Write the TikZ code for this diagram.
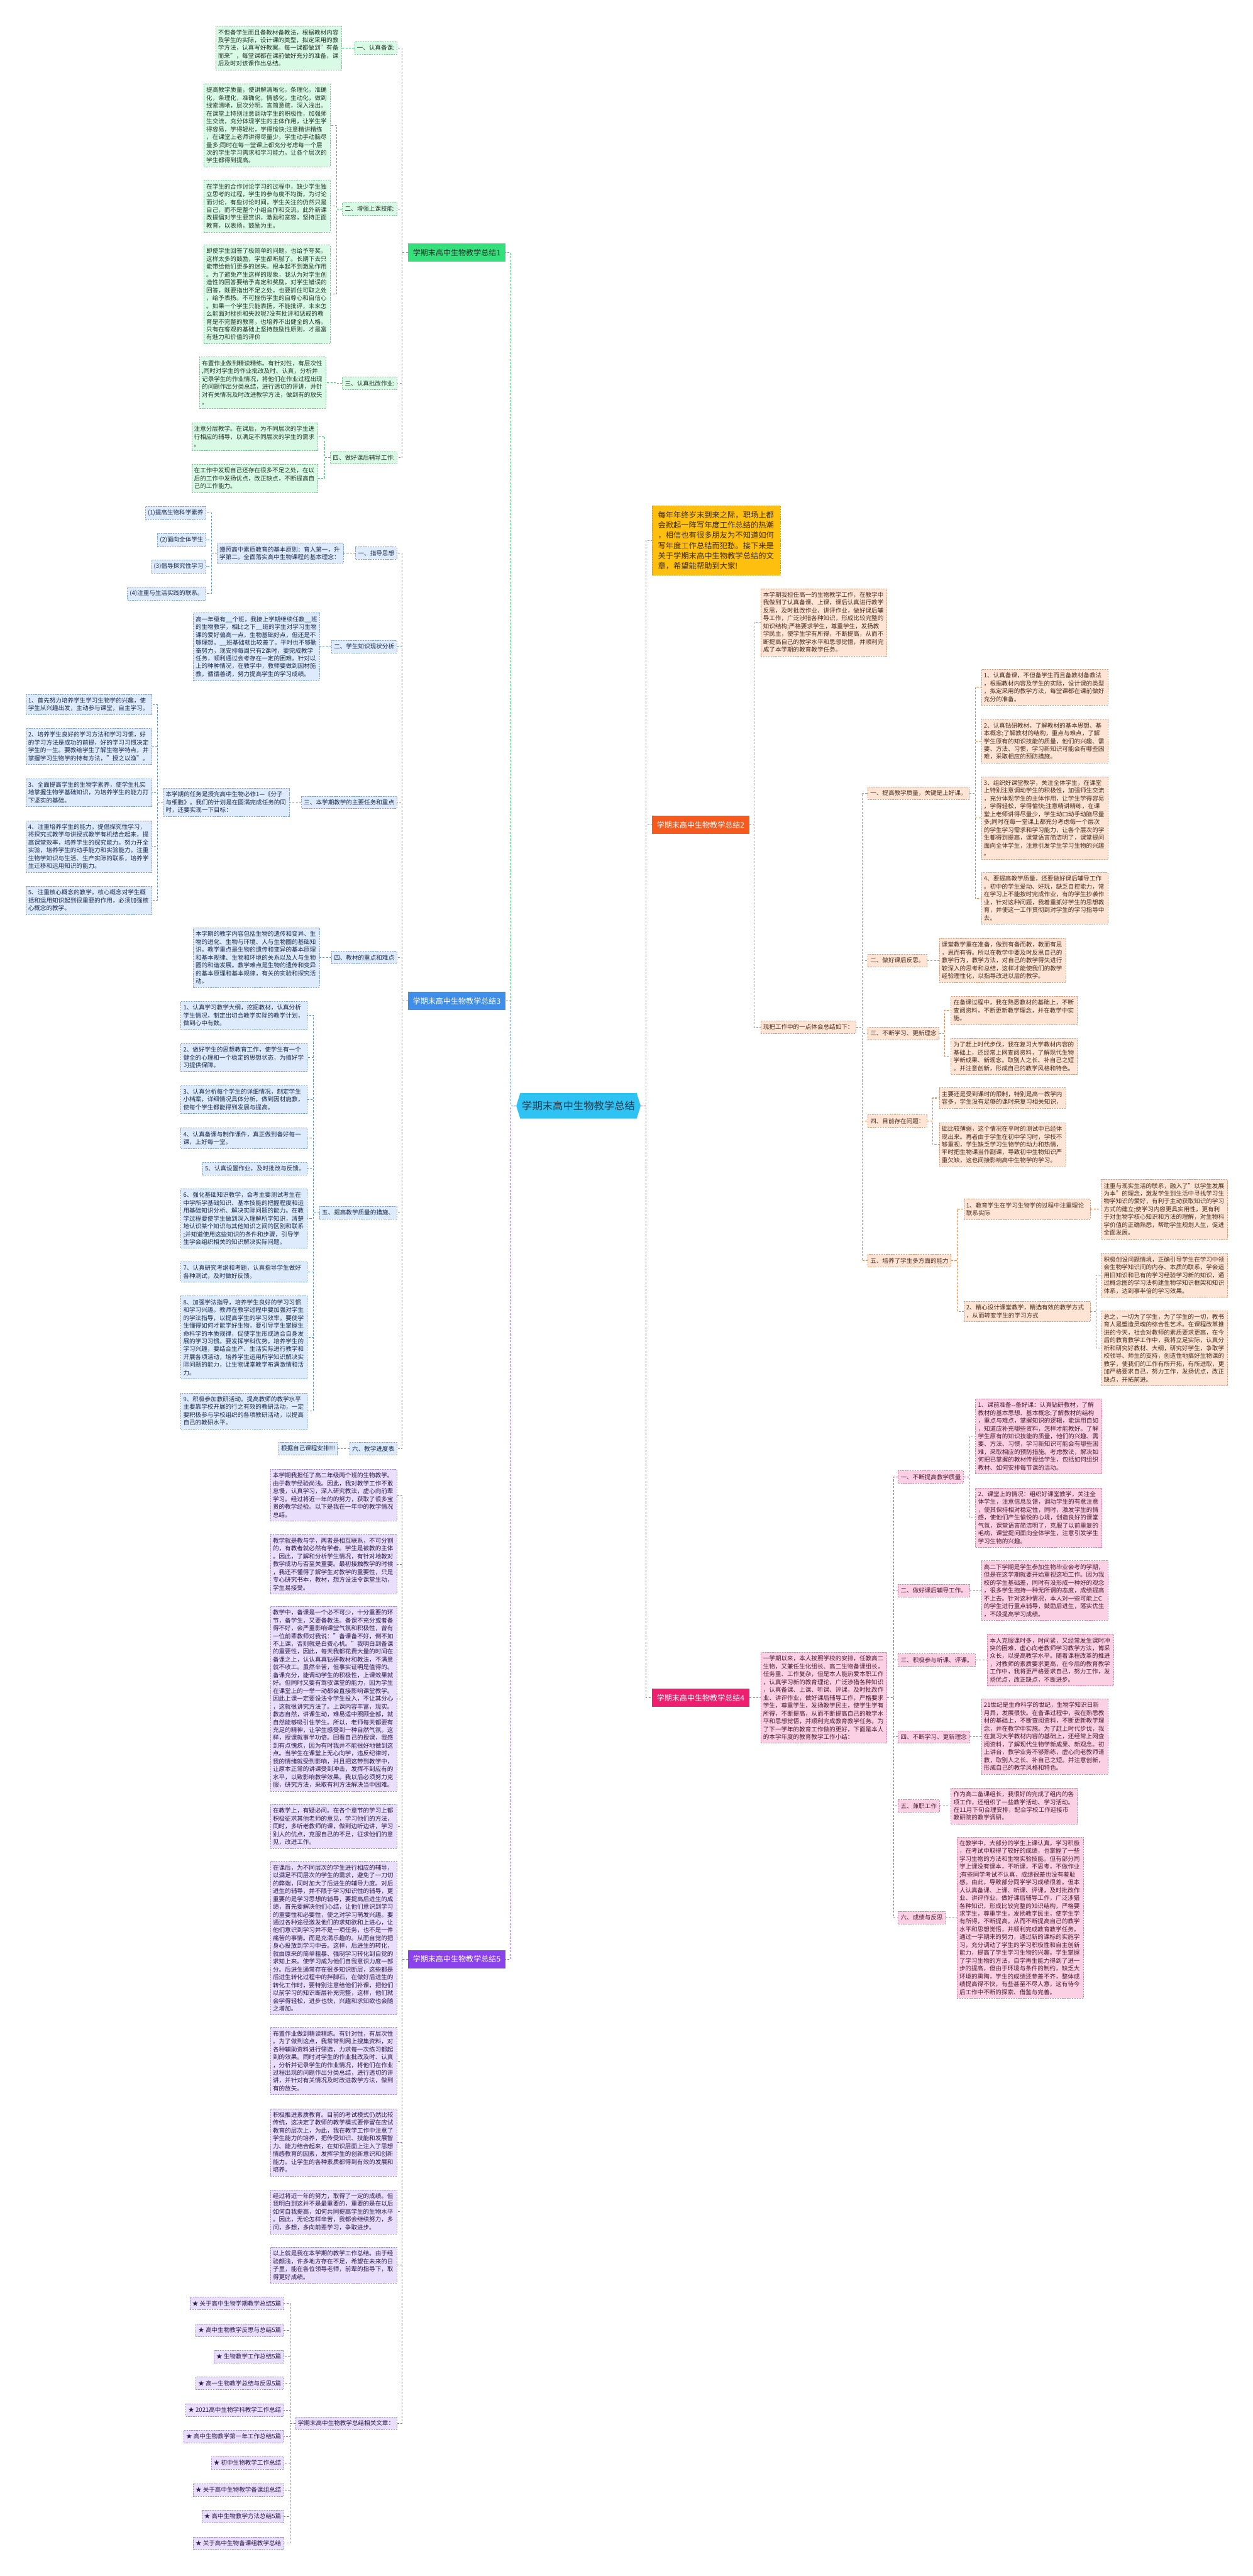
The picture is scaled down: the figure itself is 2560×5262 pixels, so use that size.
\documentclass[tikz,border=0pt]{standalone}
\usepackage{fontspec}
\setmainfont{Noto Sans CJK SC}
\usepackage{xcolor}
\usepackage{tikz}
\usetikzlibrary{shapes.symbols, positioning}

\definecolor{hubfill}{HTML}{2FC3F4}
\definecolor{hubtext}{HTML}{1E3A4C}
\definecolor{greenroot}{HTML}{33E07C}
\definecolor{greenfill}{HTML}{D9FBE6}
\definecolor{greenedge}{HTML}{7FBF95}
\definecolor{greenlink}{HTML}{3CBF6A}
\definecolor{greentext}{HTML}{233329}
\definecolor{blueroot}{HTML}{3E8EEA}
\definecolor{bluefill}{HTML}{DDEBFC}
\definecolor{blueedge}{HTML}{7F9FCB}
\definecolor{bluelink}{HTML}{5B8ED8}
\definecolor{bluetext}{HTML}{1E2A4D}
\definecolor{purpleroot}{HTML}{8A43EC}
\definecolor{purplefill}{HTML}{E9DEFC}
\definecolor{purpleedge}{HTML}{9E89C9}
\definecolor{purplelink}{HTML}{8D5BE2}
\definecolor{purpletext}{HTML}{2C1B4C}
\definecolor{orangeroot}{HTML}{F85A1E}
\definecolor{orangefill}{HTML}{FDE4D5}
\definecolor{orangeedge}{HTML}{CF9B7D}
\definecolor{orangelink}{HTML}{EE7B3C}
\definecolor{orangetext}{HTML}{4A2C1C}
\definecolor{pinkroot}{HTML}{EF1F6F}
\definecolor{pinkfill}{HTML}{FCD0E4}
\definecolor{pinkedge}{HTML}{CF7EA3}
\definecolor{pinklink}{HTML}{E6447D}
\definecolor{pinktext}{HTML}{4B1B31}
\definecolor{introfill}{HTML}{FFBF0F}
\definecolor{introedge}{HTML}{C8961B}
\definecolor{introtext}{HTML}{3B2B00}

\newcommand{\txtfont}{\fontsize{12.3}{16}\selectfont}
\newcommand{\rootfont}{\fontsize{15.5}{18}\selectfont}
\newcommand{\hubfont}{\fontsize{21}{24}\selectfont}
\newcommand{\introfont}{\fontsize{15.8}{21}\selectfont}

\tikzstyle{card} = [rectangle, draw, dash pattern=on 3pt off 2pt, line width=0.8pt, inner xsep=5pt, inner ysep=7pt, font=\txtfont]
\tikzstyle{wide} = [text width=248pt, align=left]
\tikzstyle{root} = [rectangle, minimum width=199pt, minimum height=37pt, inner xsep=8pt, font=\rootfont]
\tikzstyle{line} = [draw, dash pattern=on 4pt off 3pt, line width=1.3pt]
\tikzstyle{greencard} = [card, fill=greenfill, draw=greenedge, text=greentext]
\tikzstyle{bluecard} = [card, fill=bluefill, draw=blueedge, text=bluetext]
\tikzstyle{purplecard} = [card, fill=purplefill, draw=purpleedge, text=purpletext]
\tikzstyle{orangecard} = [card, fill=orangefill, draw=orangeedge, text=orangetext]
\tikzstyle{pinkcard} = [card, fill=pinkfill, draw=pinkedge, text=pinktext]
\tikzstyle{greenline} = [line, draw=greenlink]
\tikzstyle{blueline} = [line, draw=bluelink]
\tikzstyle{purpleline} = [line, draw=purplelink]
\tikzstyle{orangeline} = [line, draw=orangelink]
\tikzstyle{pinkline} = [line, draw=pinklink]

\begin{document}
\begin{tikzpicture}[x=1pt, y=-1pt]
    \useasboundingbox (0,0) rectangle (2560,5262);
    \fill [white] (0,0) rectangle (2560,5262);

    % Nodes
    \node [signal, signal to=west and east, signal pointer angle=146, fill=hubfill, text=hubtext, font=\hubfont, minimum width=254pt, minimum height=52pt, inner xsep=2pt] (hub) at (1182,2259) {学期末高中生物教学总结};

    % --- summary 1 (green)
    \node [root, fill=greenroot, text=greentext, anchor=east] (sum1) at (1033,516) {学期末高中生物教学总结1};
    \node [greencard, anchor=east] (g1) at (812,98) {一、认真备课:};
    \node [greencard, anchor=east] (g2) at (812,427) {二、增强上课技能:};
    \node [greencard, anchor=east] (g3) at (812,783) {三、认真批改作业:};
    \node [greencard, anchor=east] (g4) at (812,935) {四、做好课后辅导工作:};
    \node [greencard, wide, anchor=east] (g1t) at (699,98) {不但备学生而且备教材备教法，根据教材内容\\及学生的实际，设计课的类型，拟定采用的教\\学方法，认真写好教案。每一课都做到"有备\\而来"，每堂课都在课前做好充分的准备，课\\后及时对该课作出总结。};
    \node [greencard, wide, anchor=east] (g2a) at (675,256) {提高教学质量，使讲解清晰化，条理化，准确\\化，条理化，准确化，情感化，生动化，做到\\线索清晰，层次分明，言简意赅，深入浅出。\\在课堂上特别注意调动学生的积极性，加强师\\生交流，充分体现学生的主体作用，让学生学\\得容易，学得轻松，学得愉快;注意精讲精练\\，在课堂上老师讲得尽量少，学生动手动脑尽\\量多;同时在每一堂课上都充分考虑每一个层\\次的学生学习需求和学习能力，让各个层次的\\学生都得到提高。};
    \node [greencard, wide, anchor=east] (g2b) at (675,421) {在学生的合作讨论学习的过程中，缺少学生独\\立思考的过程，学生的参与度不均衡，为讨论\\而讨论，有些讨论时间，学生关注的仍然只是\\自己，而不是整个小组合作和交流。此外新课\\改提倡对学生要赏识，激励和宽容，坚持正面\\教育，以表扬，鼓励为主。};
    \node [greencard, wide, anchor=east] (g2c) at (675,601) {即使学生回答了极简单的问题，也给予夸奖。\\这样太多的鼓励，学生都听腻了。长期下去只\\能带给他们更多的迷失。根本起不到激励作用\\。为了避免产生这样的现象，我认为对学生创\\造性的回答要给予肯定和奖励，对学生错误的\\回答，既要指出不足之处，也要抓住可取之处\\，给予表扬。不可挫伤学生的自尊心和自信心\\。如果一个学生只能表扬，不能批评，未来怎\\么能面对挫折和失败呢?没有批评和惩戒的教\\育是不完整的教育，也培养不出健全的人格。\\只有在客观的基础上坚持鼓励性原则，才是富\\有魅力和价值的评价};
    \node [greencard, wide, anchor=east] (g3t) at (666,782) {布置作业做到精读精练。有针对性，有层次性\\,同时对学生的作业批改及时、认真，分析并\\记录学生的作业情况，将他们在作业过程出现\\的问题作出分类总结，进行透切的评讲，并针\\对有关情况及时改进教学方法，做到有的放矢\\。};
    \node [greencard, wide, anchor=east] (g4a) at (650,892) {注意分层教学。在课后，为不同层次的学生进\\行相应的辅导，以满足不同层次的学生的需求\\。};
    \node [greencard, wide, anchor=east] (g4b) at (650,977) {在工作中发现自己还存在很多不足之处，在以\\后的工作中发扬优点，改正缺点，不断提高自\\己的工作能力。};

    % --- summary 3 (blue)
    \node [root, fill=blueroot, text=white, anchor=east] (sum3) at (1033,2045) {学期末高中生物教学总结3};
    \node [bluecard, anchor=east] (b1) at (811,1130) {一、指导思想};
    \node [bluecard, anchor=east] (b2) at (811,1321) {二、学生知识现状分析};
    \node [bluecard, anchor=east] (b3) at (811,1639) {三、本学期教学的主要任务和重点};
    \node [bluecard, anchor=east] (b4) at (811,1956) {四、教材的重点和难点};
    \node [bluecard, anchor=east] (b5) at (811,2477) {五、提高教学质量的措施、};
    \node [bluecard, anchor=east] (b6) at (811,2959) {六、教学进度表};
    \node [bluecard, wide, anchor=east] (b1t) at (702,1130) {遵照高中素质教育的基本原则：育人第一，升\\学第二。全面落实高中生物课程的基本理念：};
    \node [bluecard, anchor=east] (b1a) at (421,1048) {(1)提高生物科学素养};
    \node [bluecard, anchor=east] (b1b) at (421,1103) {(2)面向全体学生};
    \node [bluecard, anchor=east] (b1c) at (421,1157) {(3)倡导探究性学习};
    \node [bluecard, anchor=east] (b1d) at (421,1212) {(4)注重与生活实践的联系。};
    \node [bluecard, wide, anchor=east] (b2t) at (653,1321) {高一年级有\_\_个班，我接上学期继续任教\_\_班\\的生物教学，相比之下\_\_班的学生对学习生物\\课的爱好偏高一点，生物基础好点，但还是不\\够理想。\_\_班基础就比较差了。平时也不够勤\\奋努力，现安排每周只有2课时，要完成教学\\任务，顺利通过会考存在一定的困难。针对以\\上的种种情况，在教学中，教师要做到因材施\\教，循循善诱，努力提高学生的学习成绩。};
    \node [bluecard, wide, anchor=east] (b3t) at (592,1639) {本学期的任务是授完高中生物必修1—《分子\\与细胞》。我们的计划是在圆满完成任务的同\\时，还要实现一下目标：};
    \node [bluecard, wide, anchor=east] (b3a) at (311,1439) {1、首先努力培养学生学习生物学的兴趣，使\\学生从兴趣出发，主动参与课堂，自主学习。};
    \node [bluecard, wide, anchor=east] (b3b) at (311,1525) {2、培养学生良好的学习方法和学习习惯，好\\的学习方法是成功的前提，好的学习习惯决定\\学生的一生。要教给学生了解生物学特点，并\\掌握学习生物学的特有方法，"授之以渔"。};
    \node [bluecard, wide, anchor=east] (b3c) at (311,1619) {3、全面提高学生的生物学素养，使学生扎实\\地掌握生物学基础知识，为培养学生的能力打\\下坚实的基础。};
    \node [bluecard, wide, anchor=east] (b3d) at (311,1729) {4、注重培养学生的能力。提倡探究性学习，\\将探究式教学与讲授式教学有机结合起来，提\\高课堂效率，培养学生的探究能力。努力开全\\实验，培养学生的动手能力和实验能力。注重\\生物学知识与生活、生产实际的联系，培养学\\生迁移和运用知识的能力。};
    \node [bluecard, wide, anchor=east] (b3e) at (311,1839) {5、注重核心概念的教学。核心概念对学生概\\括和运用知识起到很重要的作用，必须加强核\\心概念的教学。};
    \node [bluecard, wide, anchor=east] (b4t) at (653,1956) {本学期的教学内容包括生物的遗传和变异、生\\物的进化、生物与环境、人与生物圈的基础知\\识。教学重点是生物的遗传和变异的基本原理\\和基本规律、生物和环境的关系以及人与生物\\圈的和谐发展。教学难点是生物的遗传和变异\\的基本原理和基本规律，有关的实验和探究活\\动。};
    \node [bluecard, wide, anchor=east] (b5a) at (628,2074) {1、认真学习教学大纲，挖掘教材，认真分析\\学生情况，制定出切合教学实际的教学计划，\\做到心中有数。};
    \node [bluecard, wide, anchor=east] (b5b) at (628,2160) {2、做好学生的思想教育工作，使学生有一个\\健全的心理和一个稳定的思想状态，为搞好学\\习提供保障。};
    \node [bluecard, wide, anchor=east] (b5c) at (628,2246) {3、认真分析每个学生的详细情况，制定学生\\小档案，详细情况具体分析，做到因材施教，\\使每个学生都能得到发展与提高。};
    \node [bluecard, wide, anchor=east] (b5d) at (628,2325) {4、认真备课与制作课件，真正做到备好每一\\课，上好每一堂。};
    \node [bluecard, anchor=east] (b5e) at (628,2387) {5、认真设置作业，及时批改与反馈。};
    \node [bluecard, wide, anchor=east] (b5f) at (628,2489) {6、强化基础知识教学，会考主要测试考生在\\中学所学基础知识、基本技能的把握程度和运\\用基础知识分析、解决实际问题的能力。在教\\学过程要使学生做到深入理解所学知识，清楚\\地认识某个知识与其他知识之间的区别和联系\\;并知道使用这些知识的条件和步骤，引导学\\生学会组织相关的知识解决实际问题。};
    \node [bluecard, wide, anchor=east] (b5g) at (628,2598) {7、认真研究考纲和考题，认真指导学生做好\\各种测试，及时做好反馈。};
    \node [bluecard, wide, anchor=east] (b5h) at (628,2732) {8、加强学法指导，培养学生良好的学习习惯\\和学习兴趣。教师在教学过程中要加强对学生\\的学法指导，以提高学生的学习效率。要使学\\生懂得如何才能学好生物，要引导学生掌握生\\命科学的本质规律，促使学生形成适合自身发\\展的学习习惯。要发挥学科优势，培养学生的\\学习兴趣，要结合生产、生活实际进行教学和\\开展各项活动，培养学生运用所学知识解决实\\际问题的能力，让生物课堂教学布满激情和活\\力。};
    \node [bluecard, wide, anchor=east] (b5i) at (628,2882) {9、积极参加教研活动。提高教师的教学水平\\主要靠学校开展的行之有效的教研活动，一定\\要积极参与学校组织的各项教研活动，以提高\\自己的教研水平。};
    \node [bluecard, anchor=east] (b6t) at (690,2959) {根据自己课程安排!!!};

    % --- summary 5 (purple)
    \node [root, fill=purpleroot, text=white, anchor=east] (sum5) at (1033,4002) {学期末高中生物教学总结5};
    \node [purplecard, wide, anchor=east] (p1) at (811,3054) {本学期我担任了高二年级两个班的生物教学。\\由于教学经验尚浅。因此，我对教学工作不敢\\怠慢，认真学习，深入研究教法，虚心向前辈\\学习。经过将近一年的的努力，获取了很多宝\\贵的教学经验。以下是我在一年中的教学情况\\总结。};
    \node [purplecard, wide, anchor=east] (p2) at (811,3195) {教学就是教与学，两者是相互联系，不可分割\\的，有教者就必然有学者。学生是被教的主体\\。因此，了解和分析学生情况，有针对地教对\\教学成功与否至关重要。最初接触教学的时候\\，我还不懂得了解学生对教学的重要性，只是\\专心研究书本，教材，想方设法令课堂生动，\\学生易接受。};
    \node [purplecard, wide, anchor=east] (p3) at (811,3470) {教学中，备课是一个必不可少，十分重要的环\\节，备学生，又要备教法。备课不充分或者备\\得不好，会严重影响课堂气氛和积极性，曾有\\一位前辈教师对我说："备课备不好，倒不如\\不上课，否则就是白费心机。"我明白到备课\\的重要性，因此，每天我都花费大量的时间在\\备课之上，认认真真钻研教材和教法，不满意\\就不收工。虽然辛苦，但事实证明是值得的。\\备课充分，能调动学生的积极性，上课效果就\\好。但同时又要有驾驭课堂的能力，因为学生\\在课堂上的一举一动都会直接影响课堂教学。\\因此上课一定要设法令学生投入，不让其分心\\，这就很讲究方法了。上课内容丰富，现实。\\教态自然，讲课生动，难易适中照顾全部，就\\自然能够吸引住学生。所以，老师每天都要有\\充足的精神，让学生感受到一种自然气氛。这\\样，授课就事半功倍。回看自己的授课，我感\\到有点愧疚，因为有时我并不能很好地做到这\\点。当学生在课堂上无心向学，违反纪律时，\\我的情绪就受到影响，并且把这带到教学中，\\让原本正常的讲课受到冲击，发挥不到应有的\\水平，以致影响教学效果。我以后必须努力克\\服，研究方法，采取有利方法解决当中困难。};
    \node [purplecard, wide, anchor=east] (p4) at (811,3731) {在教学上，有疑必问。在各个章节的学习上都\\积极征求其他老师的意见，学习他们的方法，\\同时，多听老教师的课，做到边听边讲，学习\\别人的优点，克服自己的不足，征求他们的意\\见，改进工作。};
    \node [purplecard, wide, anchor=east] (p5) at (811,3959) {在课后，为不同层次的学生进行相应的辅导，\\以满足不同层次的学生的需求，避免了一刀切\\的弊端，同时加大了后进生的辅导力度。对后\\进生的辅导，并不限于学习知识性的辅导，更\\重要的是学习思想的辅导，要提高后进生的成\\绩，首先要解决他们心结，让他们意识到学习\\的重要性和必要性，使之对学习萌发兴趣。要\\通过各种途径激发他们的求知欲和上进心，让\\他们意识到学习并不是一项任务，也不是一件\\痛苦的事情。而是充满乐趣的。从而自觉的把\\身心投放到学习中去。这样，后进生的转化，\\就由原来的简单粗暴、强制学习转化到自觉的\\求知上来。使学习成为他们自我意识力度一部\\分。后进生通常存在很多知识断层，这些都是\\后进生转化过程中的拌脚石，在做好后进生的\\转化工作时，要特别注意给他们补课，把他们\\以前学习的知识断层补充完整，这样，他们就\\会学得轻松，进步也快，兴趣和求知欲也会随\\之增加。};
    \node [purplecard, wide, anchor=east] (p6) at (811,4210) {布置作业做到精读精练。有针对性，有层次性\\。为了做到这点，我常常到网上搜集资料，对\\各种辅助资料进行筛选，力求每一次练习都起\\到的效果。同时对学生的作业批改及时、认真\\，分析并记录学生的作业情况，将他们在作业\\过程出现的问题作出分类总结，进行透切的评\\讲，并针对有关情况及时改进教学方法，做到\\有的放矢。};
    \node [purplecard, wide, anchor=east] (p7) at (811,4376) {积极推进素质教育。目前的考试模式仍然比较\\传统，这决定了教师的教学模式要停留在应试\\教育的层次上，为此，我在教学工作中注意了\\学生能力的培养，把传受知识、技能和发展智\\力、能力结合起来，在知识层面上注入了思想\\情感教育的因素，发挥学生的创新意识和创新\\能力。让学生的各种素质都得到有效的发展和\\培养。};
    \node [purplecard, wide, anchor=east] (p8) at (811,4518) {经过将近一年的努力，取得了一定的成绩。但\\我明白到这并不是最重要的，重要的是在以后\\如何自我提高，如何共同提高学生的生物水平\\。因此，无论怎样辛苦，我都会继续努力，多\\问，多想，多向前辈学习，争取进步。};
    \node [purplecard, wide, anchor=east] (p9) at (811,4627) {以上就是我在本学期的教学工作总结。由于经\\验颇浅，许多地方存在不足，希望在未来的日\\子里，能在各位领导老师，前辈的指导下，取\\得更好成绩。};
    \node [purplecard, anchor=east] (p10) at (811,4950) {学期末高中生物教学总结相关文章：};
    \node [purplecard, anchor=east] (s1) at (580,4705) {★ 关于高中生物学期教学总结5篇};
    \node [purplecard, anchor=east] (s2) at (580,4760) {★ 高中生物教学反思与总结5篇};
    \node [purplecard, anchor=east] (s3) at (580,4814) {★ 生物教学工作总结5篇};
    \node [purplecard, anchor=east] (s4) at (580,4868) {★ 高一生物教学总结与反思5篇};
    \node [purplecard, anchor=east] (s5) at (580,4923) {★ 2021高中生物学科教学工作总结};
    \node [purplecard, anchor=east] (s6) at (580,4977) {★ 高中生物教学第一年工作总结5篇};
    \node [purplecard, anchor=east] (s7) at (580,5031) {★ 初中生物教学工作总结};
    \node [purplecard, anchor=east] (s8) at (580,5086) {★ 关于高中生物教学备课组总结};
    \node [purplecard, anchor=east] (s9) at (580,5140) {★ 高中生物教学方法总结5篇};
    \node [purplecard, anchor=east] (s10) at (580,5195) {★ 关于高中生物备课组教学总结};

    % --- intro and summary 2 (orange)
    \node [rectangle, draw=introedge, dash pattern=on 3pt off 2pt, line width=0.8pt, fill=introfill, text=introtext, font=\introfont, text width=238pt, align=left, inner xsep=12pt, inner ysep=11pt, anchor=west] (intro) at (1332,1104) {每年年终岁末到来之际，职场上都\\会掀起一阵写年度工作总结的热潮\\，相信也有很多朋友为不知道如何\\写年度工作总结而犯愁。接下来是\\关于学期末高中生物教学总结的文\\章，希望能帮助到大家!};
    \node [root, fill=orangeroot, text=white, anchor=west] (sum2) at (1332,1685) {学期末高中生物教学总结2};
    \node [orangecard, wide, anchor=west] (o1) at (1554,1271) {本学期我担任高一的生物教学工作，在教学中\\我做到了认真备课、上课，课后认真进行教学\\反思，及时批改作业、讲评作业，做好课后辅\\导工作，广泛涉猎各种知识，形成比较完整的\\知识结构;严格要求学生，尊重学生，发扬教\\学民主，使学生学有所得，不断提高，从而不\\断提高自己的教学水平和思想觉悟，并顺利完\\成了本学期的教育教学任务。};
    \node [orangecard, anchor=west] (o2) at (1554,2098) {现把工作中的一点体会总结如下：};
    \node [orangecard, anchor=west] (e1) at (1773,1620) {一、提高教学质量，关键是上好课。};
    \node [orangecard, anchor=west] (e2) at (1773,1962) {二、做好课后反思。};
    \node [orangecard, anchor=west] (e3) at (1773,2111) {三、不断学习、更新理念};
    \node [orangecard, anchor=west] (e4) at (1773,2290) {四、目前存在问题：};
    \node [orangecard, anchor=west] (e5) at (1773,2575) {五、培养了学生多方面的能力};
    \node [orangecard, wide, anchor=west] (e1a) at (2005,1404) {1、认真备课，不但备学生而且备教材备教法\\，根据教材内容及学生的实际，设计课的类型\\，拟定采用的教学方法，每堂课都在课前做好\\充分的准备。};
    \node [orangecard, wide, anchor=west] (e1b) at (2005,1514) {2、认真钻研教材，了解教材的基本思想、基\\本概念;了解教材的结构，重点与难点，了解\\学生原有的知识技能的质量，他们的兴趣、需\\要、方法、习惯，学习新知识可能会有哪些困\\难，采取相应的预防措施。};
    \node [orangecard, wide, anchor=west] (e1c) at (2005,1671) {3、组织好课堂教学，关注全体学生，在课堂\\上特别注意调动学生的积极性，加强师生交流\\，充分体现学生的主体作用，让学生学得容易\\，学得轻松，学得愉快;注意精讲精练，在课\\堂上老师讲得尽量少，学生动口动手动脑尽量\\多;同时在每一堂课上都充分考虑每一个层次\\的学生学习需求和学习能力，让各个层次的学\\生都得到提高，课堂语言简洁明了，课堂提问\\面向全体学生，注意引发学生学习生物的兴趣\\。};
    \node [orangecard, wide, anchor=west] (e1d) at (2005,1835) {4、要提高教学质量，还要做好课后辅导工作\\。初中的学生爱动、好玩，缺乏自控能力，常\\在学习上不能按时完成作业，有的学生抄袭作\\业，针对这种问题，我着重抓好学生的思想教\\育，并使这一工作贯彻到对学生的学习指导中\\去。};
    \node [orangecard, wide, anchor=west] (e2t) at (1919,1962) {课堂教学重在准备，做到有备而教，教而有思\\，思而有得。所以在教学中要及时反思自己的\\教学行为，教学方法，对自己的教学得失进行\\较深入的思考和总结，这样才能使我们的教学\\经验理性化，以指导改进以后的教学。};
    \node [orangecard, wide, anchor=west] (e3a) at (1943,2064) {在备课过程中，我在熟悉教材的基础上，不断\\查阅资料，不断更新教学理念，并在教学中实\\施。};
    \node [orangecard, wide, anchor=west] (e3b) at (1943,2158) {为了赶上时代步伐，我在复习大学教材内容的\\基础上，还经常上网查阅资料，了解现代生物\\学新成果、新观念。取别人之长、补自己之短\\。并注意创新，形成自己的教学风格和特色。};
    \node [orangecard, wide, anchor=west] (e4a) at (1919,2243) {主要还是受到课时的限制，特别是高一教学内\\容多，学生没有足够的课时来复习相关知识，};
    \node [orangecard, wide, anchor=west] (e4b) at (1919,2338) {础比较薄弱，这个情况在平时的测试中已经体\\现出来。再者由于学生在初中学习时，学校不\\够重视，学生缺乏学习生物学的动力和热情，\\平时把生物课当作副课，导致初中生物知识严\\重欠缺，这也间接影响高中生物学的学习。};
    \node [orangecard, wide, anchor=west] (e5a) at (1969,2470) {1、教育学生在学习生物学的过程中注重理论\\联系实际};
    \node [orangecard, wide, anchor=west] (e5b) at (1969,2679) {2、精心设计课堂教学，精选有效的教学方式\\，从而转变学生的学习方式};
    \node [orangecard, wide, anchor=west] (e5at) at (2250,2470) {注重与现实生活的联系，融入了"以学生发展\\为本"的理念，激发学生到生活中寻找学习生\\物学知识的爱好，有利于主动获取知识的学习\\方式的建立;使学习内容更具实用性，更有利\\于对生物学核心知识和方法的理解，对生物科\\学价值的正确熟悉，帮助学生规划人生，促进\\全面发展。};
    \node [orangecard, wide, anchor=west] (e5ba) at (2250,2605) {积极创设问题情境，正确引导学生在学习中领\\会生物学知识间的内存、本质的联系，学会运\\用旧知识和已有的学习经验学习新的知识，通\\过概念图的学习法构建生物学知识框架和知识\\体系，达到事半倍的学习效果。};
    \node [orangecard, wide, anchor=west] (e5bb) at (2250,2754) {总之，一切为了学生，为了学生的一切，教书\\育人是塑造灵魂的综合性艺术。在课程改革推\\进的今天，社会对教师的素质要求更高，在今\\后的教育教学工作中，我将立足实际，认真分\\析和研究好教材、大纲，研究好学生，争取学\\校领导、师生的支持，创造性地搞好生物课的\\教学，使我们的工作有所开拓，有所进取，更\\加严格要求自己，努力工作，发扬优点，改正\\缺点，开拓前进。};

    % --- summary 4 (pink)
    \node [root, fill=pinkroot, text=white, anchor=west] (sum4) at (1332,3468) {学期末高中生物教学总结4};
    \node [pinkcard, wide, anchor=west] (k0) at (1554,3468) {一学期以来，本人按照学校的安排，任教高二\\生物，又兼任生化组长、高二生物备课组长，\\任务重、工作复杂，但是本人能热爱本职工作\\，认真学习新的教育理论，广泛涉猎各种知识\\，认真备课、上课、听课、评课，及时批改作\\业、讲评作业，做好课后辅导工作，严格要求\\学生，尊重学生，发扬教学民主，使学生学有\\所得，不断提高，从而不断提高自己的教学水\\平和思想觉悟，并顺利完成教育教学任务。为\\了下一学年的教育工作做的更好，下面是本人\\的本学年度的教育教学工作小结：};
    \node [pinkcard, anchor=west] (f1) at (1835,3017) {一、不断提高教学质量};
    \node [pinkcard, anchor=west] (f2) at (1835,3249) {二、做好课后辅导工作。};
    \node [pinkcard, anchor=west] (f3) at (1835,3391) {三、积极参与听课、评课。};
    \node [pinkcard, anchor=west] (f4) at (1835,3548) {四、不断学习、更新理念};
    \node [pinkcard, anchor=west] (f5) at (1835,3689) {五、兼职工作};
    \node [pinkcard, anchor=west] (f6) at (1835,3917) {六、成绩与反思};
    \node [pinkcard, wide, anchor=west] (f1a) at (1993,2934) {1、课前准备-{}-备好课：认真钻研教材，了解\\教材的基本思想、基本概念;了解教材的结构\\，重点与难点，掌握知识的逻辑，能运用自如\\，知道应补充哪些资料，怎样才能教好。了解\\学生原有的知识技能的质量，他们的兴趣、需\\要、方法、习惯，学习新知识可能会有哪些困\\难，采取相应的预防措施。考虑教法，解决如\\何把已掌握的教材传授给学生，包括如何组织\\教材、如何安排每节课的活动。};
    \node [pinkcard, wide, anchor=west] (f1b) at (1993,3100) {2、课堂上的情况：组织好课堂教学，关注全\\体学生，注意信息反馈，调动学生的有意注意\\，使其保持相对稳定性，同时，激发学生的情\\感，使他们产生愉悦的心境，创造良好的课堂\\气氛，课堂语言简洁明了，克服了以前重复的\\毛病，课堂提问面向全体学生，注意引发学生\\学习生物的兴趣。};
    \node [pinkcard, wide, anchor=west] (f2t) at (2005,3249) {高二下学期是学生参加生物毕业会考的学期，\\但是在这学期就要开始重视这项工作。因为我\\校的学生基础差，同时有没形成一种好的观念\\，很多学生抱持一种无所谓的态度，成绩提高\\不上去。针对这种情况，本人对一些可能上C\\的学生进行重点辅导，鼓励后进生，落实优生\\，不段提高学习成绩。};
    \node [pinkcard, wide, anchor=west] (f3t) at (2017,3391) {本人克服课时多，时间紧，又经常发生课时冲\\突的困难，虚心向老教师学习教学方法，博采\\众长，以提高教学水平。随着课程改革的推进\\，对教师的素质要求更高，在今后的教育教学\\工作中，我将更严格要求自己，努力工作，发\\扬优点，改正缺点，不断进步。};
    \node [pinkcard, wide, anchor=west] (f4t) at (2005,3547) {21世纪是生命科学的世纪，生物学知识日新\\月异，发展很快。在备课过程中，我在熟悉教\\材的基础上，不断查阅资料，不断更新教学理\\念，并在教学中实施。为了赶上时代步伐，我\\在复习大学教材内容的基础上，还经常上网查\\阅资料，了解现代生物学新成果、新观念。初\\上讲台，教学业务不够熟练，虚心向老教师请\\教，取别人之长、补自己之短。并注意创新，\\形成自己的教学风格和特色。};
    \node [pinkcard, wide, anchor=west] (f5t) at (1943,3689) {作为高二备课组长，我很好的完成了组内的各\\项工作，还组织了一些教学活动、学习活动。\\在11月下旬合理安排，配合学校工作迎接市\\教研院的教学调研。};
    \node [pinkcard, wide, anchor=west] (f6t) at (1955,3917) {在教学中，大部分的学生上课认真，学习积极\\，在考试中取得了较好的成绩，也掌握了一些\\学习生物的方法和生物实验技能。但有部分同\\学上课没有课本，不听课，不思考，不做作业\\;有些同学考试不认真，成绩很差也没有羞耻\\感。由此，导致部分同学学习成绩很差。但本\\人认真备课、上课、听课、评课，及时批改作\\业、讲评作业，做好课后辅导工作，广泛涉猎\\各种知识，形成比较完整的知识结构，严格要\\求学生，尊重学生，发扬教学民主，使学生学\\有所得，不断提高，从而不断提高自己的教学\\水平和思想觉悟，并顺利完成教育教学任务。\\通过一学期来的努力，通过新的课标的实施学\\习，充分调动了学生的学习积极性和自主创新\\能力，提高了学生学习生物的兴趣。学生掌握\\了学习生物的方法，自学再生能力得到了进一\\步的提高，但由于环境与条件的制约，缺乏大\\环境的熏陶，学生的成绩还参差不齐，整体成\\绩提高得不快，有些甚至不尽人意，这有待今\\后工作中不断的探索、借鉴与完善。};

    % Edges
    \path [greenline] (hub.west) -- +(-11,0) |- (sum1.east);
    \path [purpleline] (hub.west) -- +(-11,0) |- (sum5.east);
    \path [blueline] (hub.west) -- +(-11,0) |- (sum3.east);
    \path [orangeline] (hub.east) -- +(11,0) |- (intro.west);
    \path [orangeline] (hub.east) -- +(11,0) |- (sum2.west);
    \path [pinkline] (hub.east) -- +(11,0) |- (sum4.west);

    \foreach \n in {g1,g2,g3,g4} \path [greenline] (sum1.west) -- +(-12,0) |- (\n.east);
    \path [greenline] (g1.west) -- +(-11,0) |- (g1t.east);
    \foreach \n in {g2a,g2b,g2c} \path [greenline] (g2.west) -- +(-11,0) |- (\n.east);
    \path [greenline] (g3.west) -- +(-11,0) |- (g3t.east);
    \foreach \n in {g4a,g4b} \path [greenline] (g4.west) -- +(-11,0) |- (\n.east);

    \foreach \n in {b1,b2,b3,b4,b5,b6} \path [blueline] (sum3.west) -- +(-12,0) |- (\n.east);
    \path [blueline] (b1.west) -- +(-12,0) |- (b1t.east);
    \foreach \n in {b1a,b1b,b1c,b1d} \path [blueline] (b1t.west) -- +(-11,0) |- (\n.east);
    \path [blueline] (b2.west) -- +(-12,0) |- (b2t.east);
    \path [blueline] (b3.west) -- +(-12,0) |- (b3t.east);
    \foreach \n in {b3a,b3b,b3c,b3d,b3e} \path [blueline] (b3t.west) -- +(-12,0) |- (\n.east);
    \path [blueline] (b4.west) -- +(-12,0) |- (b4t.east);
    \foreach \n in {b5a,b5b,b5c,b5d,b5e,b5f,b5g,b5h,b5i} \path [blueline] (b5.west) -- +(-12,0) |- (\n.east);
    \path [blueline] (b6.west) -- +(-12,0) |- (b6t.east);

    \foreach \n in {p1,p2,p3,p4,p5,p6,p7,p8,p9,p10} \path [purpleline] (sum5.west) -- +(-12,0) |- (\n.east);
    \foreach \n in {s1,s2,s3,s4,s5,s6,s7,s8,s9,s10} \path [purpleline] (p10.west) -- +(-11,0) |- (\n.east);

    \foreach \n in {o1,o2} \path [orangeline] (sum2.east) -- +(10,0) |- (\n.west);
    \foreach \n in {e1,e2,e3,e4,e5} \path [orangeline] (o2.east) -- +(12,0) |- (\n.west);
    \foreach \n in {e1a,e1b,e1c,e1d} \path [orangeline] (e1.east) -- +(12,0) |- (\n.west);
    \path [orangeline] (e2.east) -- +(12,0) |- (e2t.west);
    \foreach \n in {e3a,e3b} \path [orangeline] (e3.east) -- +(11,0) |- (\n.west);
    \foreach \n in {e4a,e4b} \path [orangeline] (e4.east) -- +(11,0) |- (\n.west);
    \foreach \n in {e5a,e5b} \path [orangeline] (e5.east) -- +(12,0) |- (\n.west);
    \path [orangeline] (e5a.east) -- +(12,0) |- (e5at.west);
    \foreach \n in {e5ba,e5bb} \path [orangeline] (e5b.east) -- +(12,0) |- (\n.west);

    \path [pinkline] (sum4.east) -- +(11,0) |- (k0.west);
    \foreach \n in {f1,f2,f3,f4,f5,f6} \path [pinkline] (k0.east) -- +(13,0) |- (\n.west);
    \foreach \n in {f1a,f1b} \path [pinkline] (f1.east) -- +(12,0) |- (\n.west);
    \path [pinkline] (f2.east) -- +(12,0) |- (f2t.west);
    \path [pinkline] (f3.east) -- +(12,0) |- (f3t.west);
    \path [pinkline] (f4.east) -- +(12,0) |- (f4t.west);
    \path [pinkline] (f5.east) -- +(12,0) |- (f5t.west);
    \path [pinkline] (f6.east) -- +(12,0) |- (f6t.west);
\end{tikzpicture}
\end{document}
